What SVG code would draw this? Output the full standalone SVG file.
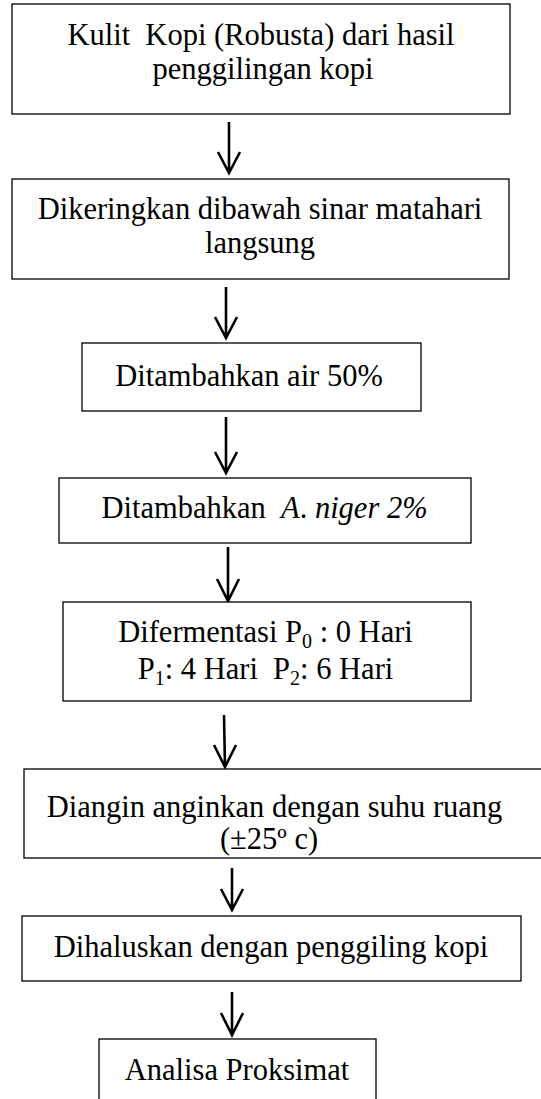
<svg xmlns="http://www.w3.org/2000/svg" width="541" height="1099" viewBox="0 0 541 1099">
<style>
.box{fill:#fff;stroke:#000;stroke-width:1.3}
.t{font-family:"Liberation Serif","Times New Roman",serif;font-size:30.5px;fill:#000;text-anchor:middle;white-space:pre}
.sub{font-size:20px}
.arr{fill:none;stroke:#000;stroke-width:2.6;stroke-linecap:butt;stroke-linejoin:miter}
</style>
<defs>
<clipPath id="c6"><rect x="0" y="769" width="541" height="88"/></clipPath>
</defs>
<rect width="541" height="1099" fill="#fff"/>
<g id="connectors">
<path class="arr" d="M229,122 V173 M218,152 L229,173 L240,152"/>
<path class="arr" d="M226,287 V338 M215,317 L226,338 L237,317"/>
<path class="arr" d="M226,417 V473 M215,452 L226,473 L237,452"/>
<path class="arr" d="M228,547 V601 M217,579 L228,601 L239,579"/>
<path class="arr" d="M224,715 L225,767 M214,745 L225,767 L236,745"/>
<path class="arr" d="M232,868 V910 M221,889 L232,910 L243,889"/>
<path class="arr" d="M232,992 V1035 M221,1013 L232,1035 L243,1013"/>
</g>
<g id="n1">
<rect class="box" x="12" y="4" width="498" height="110"/>
<text class="t" x="261" y="45" xml:space="preserve">Kulit  Kopi (Robusta) dari hasil</text>
<text class="t" x="263" y="79">penggilingan kopi</text>
</g>
<g id="n2">
<rect class="box" x="12" y="179" width="497" height="100"/>
<text class="t" x="260" y="219">Dikeringkan dibawah sinar matahari</text>
<text class="t" x="260" y="253">langsung</text>
</g>
<g id="n3">
<rect class="box" x="82" y="343" width="339" height="68"/>
<text class="t" x="249" y="386">Ditambahkan air 50%</text>
</g>
<g id="n4">
<rect class="box" x="59" y="478" width="412" height="65"/>
<text class="t" x="264.5" y="518" xml:space="preserve">Ditambahkan  <tspan font-style="italic">A</tspan>. <tspan font-style="italic">niger 2%</tspan></text>
</g>
<g id="n5">
<rect class="box" x="63" y="602" width="408" height="99"/>
<text class="t" x="265.5" y="642" xml:space="preserve">Difermentasi P<tspan class="sub" dy="6">0</tspan><tspan dy="-6"> : 0 Hari</tspan></text>
<text class="t" x="265.5" y="679" xml:space="preserve">P<tspan class="sub" dy="6">1</tspan><tspan dy="-6">: 4 Hari  P</tspan><tspan class="sub" dy="6">2</tspan><tspan dy="-6">: 6 Hari</tspan></text>
</g>
<g id="n6">
<rect class="box" x="24" y="769" width="540" height="89"/>
<text class="t" x="274.5" y="817">Diangin anginkan dengan suhu ruang</text>
<text class="t" x="269" y="849" clip-path="url(#c6)">(±25º c)</text>
</g>
<g id="n7">
<rect class="box" x="22" y="916" width="499" height="65"/>
<text class="t" x="271" y="957">Dihaluskan dengan penggiling kopi</text>
</g>
<g id="n8">
<rect class="box" x="99" y="1039" width="277" height="80"/>
<text class="t" x="237" y="1080">Analisa Proksimat</text>
</g>
</svg>
